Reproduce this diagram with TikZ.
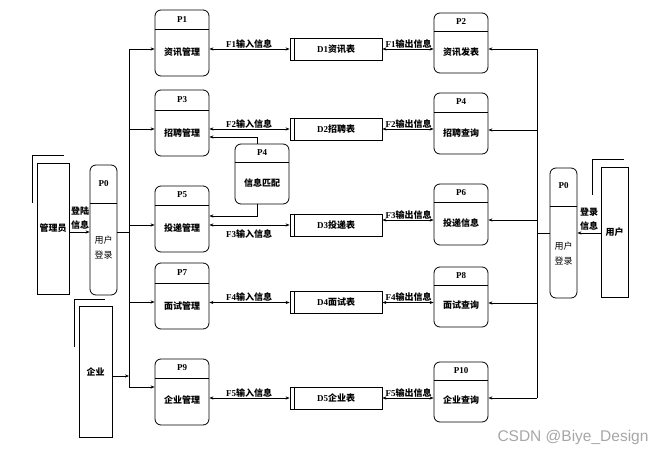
\documentclass[tikz,border=0pt]{standalone}
\usepackage{fontspec}
\setmainfont{Liberation Serif}
\newfontfamily\cjk{Noto Sans CJK SC}
\newfontfamily\wmfont{Liberation Sans}
\usetikzlibrary{arrows.meta}
\newcommand\zh[1]{{\cjk #1}}
\tikzset{
  proc/.style={draw, rounded corners=6pt, line width=0.8pt, minimum width=54pt, inner sep=0pt},
  store/.style={draw, line width=0.8pt, minimum width=92pt, minimum height=22pt, inner sep=0pt, font=\fontsize{9}{11}\selectfont\bfseries},
  ent/.style={draw, line width=0.8pt, inner sep=0pt, font=\fontsize{9}{11}\selectfont\cjk\bfseries},
  link/.style={line width=0.7pt},
  arr/.style={link, -{Stealth[length=4pt,width=3.2pt]}},
  darr/.style={link, {Stealth[length=4pt,width=3.2pt]}-{Stealth[length=4pt,width=3.2pt]}},
  lab/.style={inner sep=0pt, font=\fontsize{9}{11}\selectfont, align=center},
}
% name, cx, cy, h, divY, labY, label, text, textY
\newcommand\procnode[9]{%
  \node[proc, minimum height=#4pt] (#1) at (#2,#3) {};
  \draw[line width=0.8pt] ({#2-27},#5) -- ({#2+27},#5);
  \node[lab] (#1-l) at (#2,#6) {\bfseries #7};
  \node[lab] (#1-t) at (#2,#9) {\bfseries\zh{#8}};
}
\begin{document}
\begin{tikzpicture}[x=1pt,y=-1pt]
\useasboundingbox (0,0) rectangle (664,454);

% left processes
\procnode{P1}{182}{43}{66}{29}{19.5}{P1}{资讯管理}{52}
\procnode{P3}{182}{123}{66}{110}{100}{P3}{招聘管理}{133}
\procnode{P5}{182}{219}{66}{205}{195}{P5}{投递管理}{228}
\procnode{P7}{182}{296}{66}{283}{273}{P7}{面试管理}{306}
\procnode{P9}{182}{392}{66}{378}{368}{P9}{企业管理}{400}
% right processes
\procnode{P2}{461}{43}{60}{31}{22}{P2}{资讯发表}{52}
\procnode{P4}{461}{123.5}{61}{112}{102}{P4}{招聘查询}{133}
\procnode{P6}{461}{214.5}{61}{202}{193}{P6}{投递信息}{223}
\procnode{P8}{461}{297}{60}{285}{276}{P8}{面试查询}{305}
\procnode{P10}{461}{392}{60}{380}{371}{P10}{企业查询}{400}
% matching process
\procnode{PM}{262}{174}{60}{162}{153}{P4}{信息匹配}{183}

% data stores
\node[store] (D1) at (336,49) {D1\zh{资讯表}};
\node[store] (D2) at (336,129) {D2\zh{招聘表}};
\node[store] (D3) at (336,225) {D3\zh{投递表}};
\node[store] (D4) at (336,302.5) {D4\zh{面试表}};
\node[store] (D5) at (336,398) {D5\zh{企业表}};
\foreach \d in {D1,D2,D3,D4,D5}{
  \draw[line width=0.8pt] ([xshift=5pt]\d.north west) -- ([xshift=5pt]\d.south west);
}

% flows left process <-> store
\draw[darr] (D1.west -| P1.east) -- (D1.west);
\draw[darr] (D2.west -| P3.east) -- (D2.west);
\draw[darr] (D3.west -| P5.east) -- (D3.west);
\draw[darr] (D4.west -| P7.east) -- (D4.west);
\draw[darr] (D5.west -| P9.east) -- (D5.west);
\node[lab] (f1i) at (249,44) {\bfseries F1\zh{输入信息}};
\node[lab] (f2i) at (249,124) {\bfseries F2\zh{输入信息}};
\node[lab] (f3i) at (249,234) {\bfseries F3\zh{输入信息}};
\node[lab] (f4i) at (249,297) {\bfseries F4\zh{输入信息}};
\node[lab] (f5i) at (249,393) {\bfseries F5\zh{输入信息}};

% flows store <-> right process
\draw[darr] (D1.east) -- (D1.east -| P2.west);
\draw[darr] (D2.east) -- (D2.east -| P4.west);
\draw[darr] ([yshift=5pt]D3.east) -- ([yshift=5pt]D3.east -| P6.west);
\draw[darr] (D4.east) -- (D4.east -| P8.west);
\draw[darr] (D5.east) -- (D5.east -| P10.west);
\node[lab] (f1o) at (408.5,44) {\bfseries F1\zh{输出信息}};
\node[lab] (f2o) at (408.5,124) {\bfseries F2\zh{输出信息}};
\node[lab] (f3o) at (408.5,215) {\bfseries F3\zh{输出信息}};
\node[lab] (f4o) at (408.5,297) {\bfseries F4\zh{输出信息}};
\node[lab] (f5o) at (408.5,393) {\bfseries F5\zh{输出信息}};

% matching process links
\coordinate (m1) at (257,137);
\coordinate (m2) at (257,216);
\draw[arr] (m1 |- PM.north) -- (m1) -- (m1 -| P3.east);
\draw[arr] (m2 |- PM.south) -- (m2) -- (m2 -| P5.east);

% left bus
\coordinate (bl1) at (129,49);
\coordinate (bl2) at (129,129);
\coordinate (bl3) at (129,225);
\coordinate (bl4) at (129,302);
\coordinate (bl5) at (129,387);
\coordinate (bl0) at (129,232);
\coordinate (ble) at (129,376);
\draw[link] (bl1) -- (bl5);
\draw[arr] (bl1) -- (bl1 -| P1.west);
\draw[arr] (bl2) -- (bl2 -| P3.west);
\draw[arr] (bl3) -- (bl3 -| P5.west);
\draw[arr] (bl4) -- (bl4 -| P7.west);
\draw[arr] (bl5) -- (bl5 -| P9.west);

% right bus
\coordinate (br1) at (537,49);
\coordinate (br2) at (537,130);
\coordinate (br3) at (537,220);
\coordinate (br4) at (537,303);
\coordinate (br5) at (537,398);
\coordinate (br0) at (537,233);
\draw[link] (br1) -- (br5);
\draw[arr] (br1) -- (br1 -| P2.east);
\draw[arr] (br2) -- (br2 -| P4.east);
\draw[arr] (br3) -- (br3 -| P6.east);
\draw[arr] (br4) -- (br4 -| P8.east);
\draw[arr] (br5) -- (br5 -| P10.east);

% left login
\node[draw, rounded corners=6pt, line width=0.8pt, minimum width=27pt, minimum height=130pt, inner sep=0pt] (P0L) at (103.5,230) {};
\draw[line width=0.8pt] (90,203) -- (117,203);
\node[lab] (P0L-l) at (103.5,184) {\bfseries P0};
\node[lab, font=\fontsize{9}{15}\selectfont\cjk] (P0L-t) at (103.5,248) {用户\\登录};
\draw[link] (bl0 -| P0L.east) -- (bl0);

\node[ent, minimum width=32pt, minimum height=131pt] (adm) at (53,228.5) {管理员};
\draw[link] (32,203) -- (32,155) -- (64,155);
\draw[arr] (adm.east |- bl0) -- (P0L.west |- bl0);
\node[lab, font=\fontsize{9}{13.5}\selectfont\cjk\bfseries] (admlab) at (80,218) {登陆\\信息};

% right login
\node[draw, rounded corners=6pt, line width=0.8pt, minimum width=27pt, minimum height=130pt, inner sep=0pt] (P0R) at (563.5,233) {};
\draw[line width=0.8pt] (550,206) -- (577,206);
\node[lab] (P0R-l) at (563.5,186) {\bfseries P0};
\node[lab, font=\fontsize{9}{15}\selectfont\cjk] (P0R-t) at (563.5,254) {用户\\登录};
\draw[link] (P0R.west |- br0) -- (br0);

\node[ent, minimum width=27pt, minimum height=130pt] (usr) at (614.5,232) {用户};
\draw[link] (592,195) -- (592,159) -- (624,159);
\draw[arr] (usr.west |- br0) -- (P0R.east |- br0);
\node[lab, font=\fontsize{9}{13.5}\selectfont\cjk\bfseries] (usrlab) at (589,219) {登录\\信息};

% enterprise
\node[ent, minimum width=33pt, minimum height=131pt] (ent) at (95.5,371.5) {企业};
\draw[link] (74,347) -- (74,299) -- (105,299);
\draw[arr] (ent.east |- ble) -- (ble);

% watermark
\node[inner sep=0pt, text=black!35, font=\fontsize{15.5}{18}\selectfont\wmfont] (wm) at (573,437) {CSDN @Biye\_Design};
\end{tikzpicture}
\end{document}
